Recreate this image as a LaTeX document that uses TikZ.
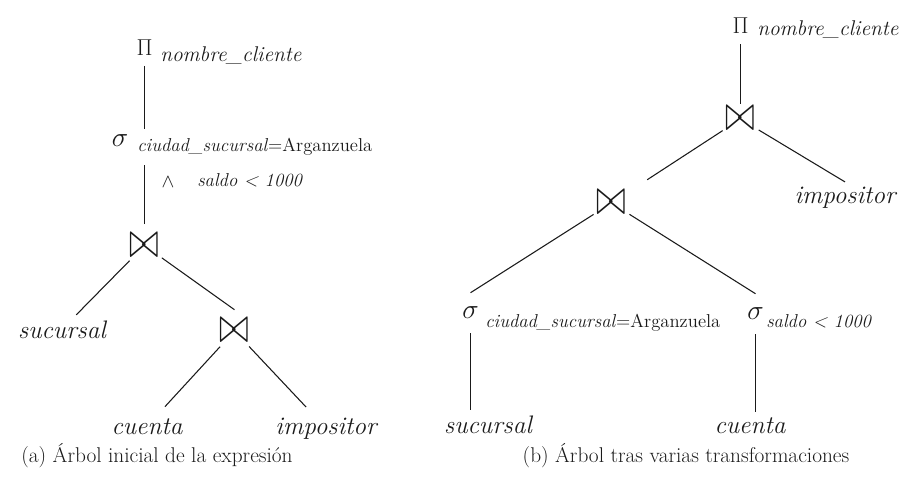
\documentclass[tikz,border=0pt]{standalone}
\usepackage{tikz}
\usetikzlibrary{calc}
\definecolor{treeInk}{HTML}{1A1A1A}
\tikzset{
  tree/base/.style={text=treeInk, inner sep=0pt},
  tree/op/.style={tree/base, circle, minimum size=31.5pt,
    font=\fontsize{20.74}{24}\selectfont},
  tree/proj/.style={tree/op, minimum size=27pt,
    font=\fontsize{17.28}{20}\selectfont},
  tree/select/.style={tree/op, minimum size=30pt},
  tree/rel/.style={tree/base, anchor=base, inner sep=4pt,
    font=\fontsize{19}{22}\selectfont\itshape},
  tree/projsub/.style={tree/base, anchor=base west,
    font=\fontsize{16}{19}\selectfont\itshape},
  % condition text of a selection; the ysep keeps edges clear of it
  tree/selsub/.style={tree/base, anchor=base west, inner ysep=7pt,
    font=\fontsize{14}{17}\selectfont},
  tree/edge/.style={draw=treeInk, line width=0.8pt},
  tree/caption/.style={tree/base, anchor=base,
    font=\fontsize{16}{19}\selectfont},
}
\newcommand{\joinop}{{\fontsize{24.88}{28}\selectfont\scalebox{1.08}[1.55]{$\bowtie$}}}

\begin{document}
\begin{tikzpicture}[
    x=0.75pt, y=-0.75pt,
    op/.style={tree/op},
    proj/.style={tree/proj},
    sel/.style={tree/select},
    rel/.style={tree/rel},
    psub/.style={tree/projsub},
    ssub/.style={tree/selsub},
    edge/.style={tree/edge},
    figcap/.style={tree/caption},
]
\useasboundingbox (0,0) rectangle (912,484);

% (a) initial tree
\node[proj] (pi1) at (144.5,47.5) {$\Pi$};
\node[psub] (ps1) at (160,62) {nombre\_cliente};
\node[sel] (sel1) at (120,141) {$\sigma$};
\node[ssub] (sc1) at (137,152) {\textit{ciudad\_sucursal}=Arganzuela};
\node[ssub, anchor=center, inner ysep=0pt] (w1) at (168,182) {$\wedge$};
\node[ssub] (sd1) at (197,187) {\textit{saldo < 1000}};
\node[op] (j1) at (144.5,245.5) {\joinop};
\node[rel] (suc1) at (62,338) {sucursal};
\node[op] (j2) at (234.5,331) {\joinop};
\node[rel] (cue1) at (147,434) {cuenta};
\node[rel] (imp1) at (326,434) {impositor};

\draw[edge] (pi1) -- (pi1 |- sc1.north);
\draw[edge] (j1) -- (j1 |- sc1.south);
\draw[edge] (j1) -- (suc1);
\draw[edge] (j1) -- (j2.north);
\draw[edge, shorten >=6pt] (j2) -- (cue1);
\draw[edge, shorten >=5pt] (j2) -- (imp1);

% (b) after the transformations
\node[proj] (pi2) at (740.5,26) {$\Pi$};
\node[psub] (ps2) at (757,36) {nombre\_cliente};
\node[op] (j3) at (740.5,119) {\joinop};
\node[rel] (imp2) at (845,204) {impositor};
\node[op] (j4) at (611.5,203) {\joinop};
\node[sel] (sel2) at (470.5,313) {$\sigma$};
\node[ssub] (sc2) at (485,327) {\textit{ciudad\_sucursal}=Arganzuela};
\node[sel] (sel3) at (755.5,314) {$\sigma$};
\node[ssub] (sc3) at (766,327) {\textit{saldo < 1000}};
\node[rel] (suc2) at (488,433) {sucursal};
\node[rel] (cue2) at (750,433) {cuenta};

\draw[edge, shorten >=-5pt] (pi2) -- (j3);
\draw[edge, shorten >=16pt] (j3) -- (j4);
\draw[edge] (j3) -- (imp2.north);
\draw[edge] (j4) -- (sel2.north);
\draw[edge] (j4) -- (sel3.north);
\draw[edge] (sel2) -- (sel2 |- suc2.north);
\draw[edge] (sel3) -- (sel3 |- cue2.north);

\node[figcap] (capA) at (157,462) {(a) Árbol inicial de la expresión};
\node[figcap] (capB) at (686,462) {(b) Árbol tras varias transformaciones};
\end{tikzpicture}
\end{document}
